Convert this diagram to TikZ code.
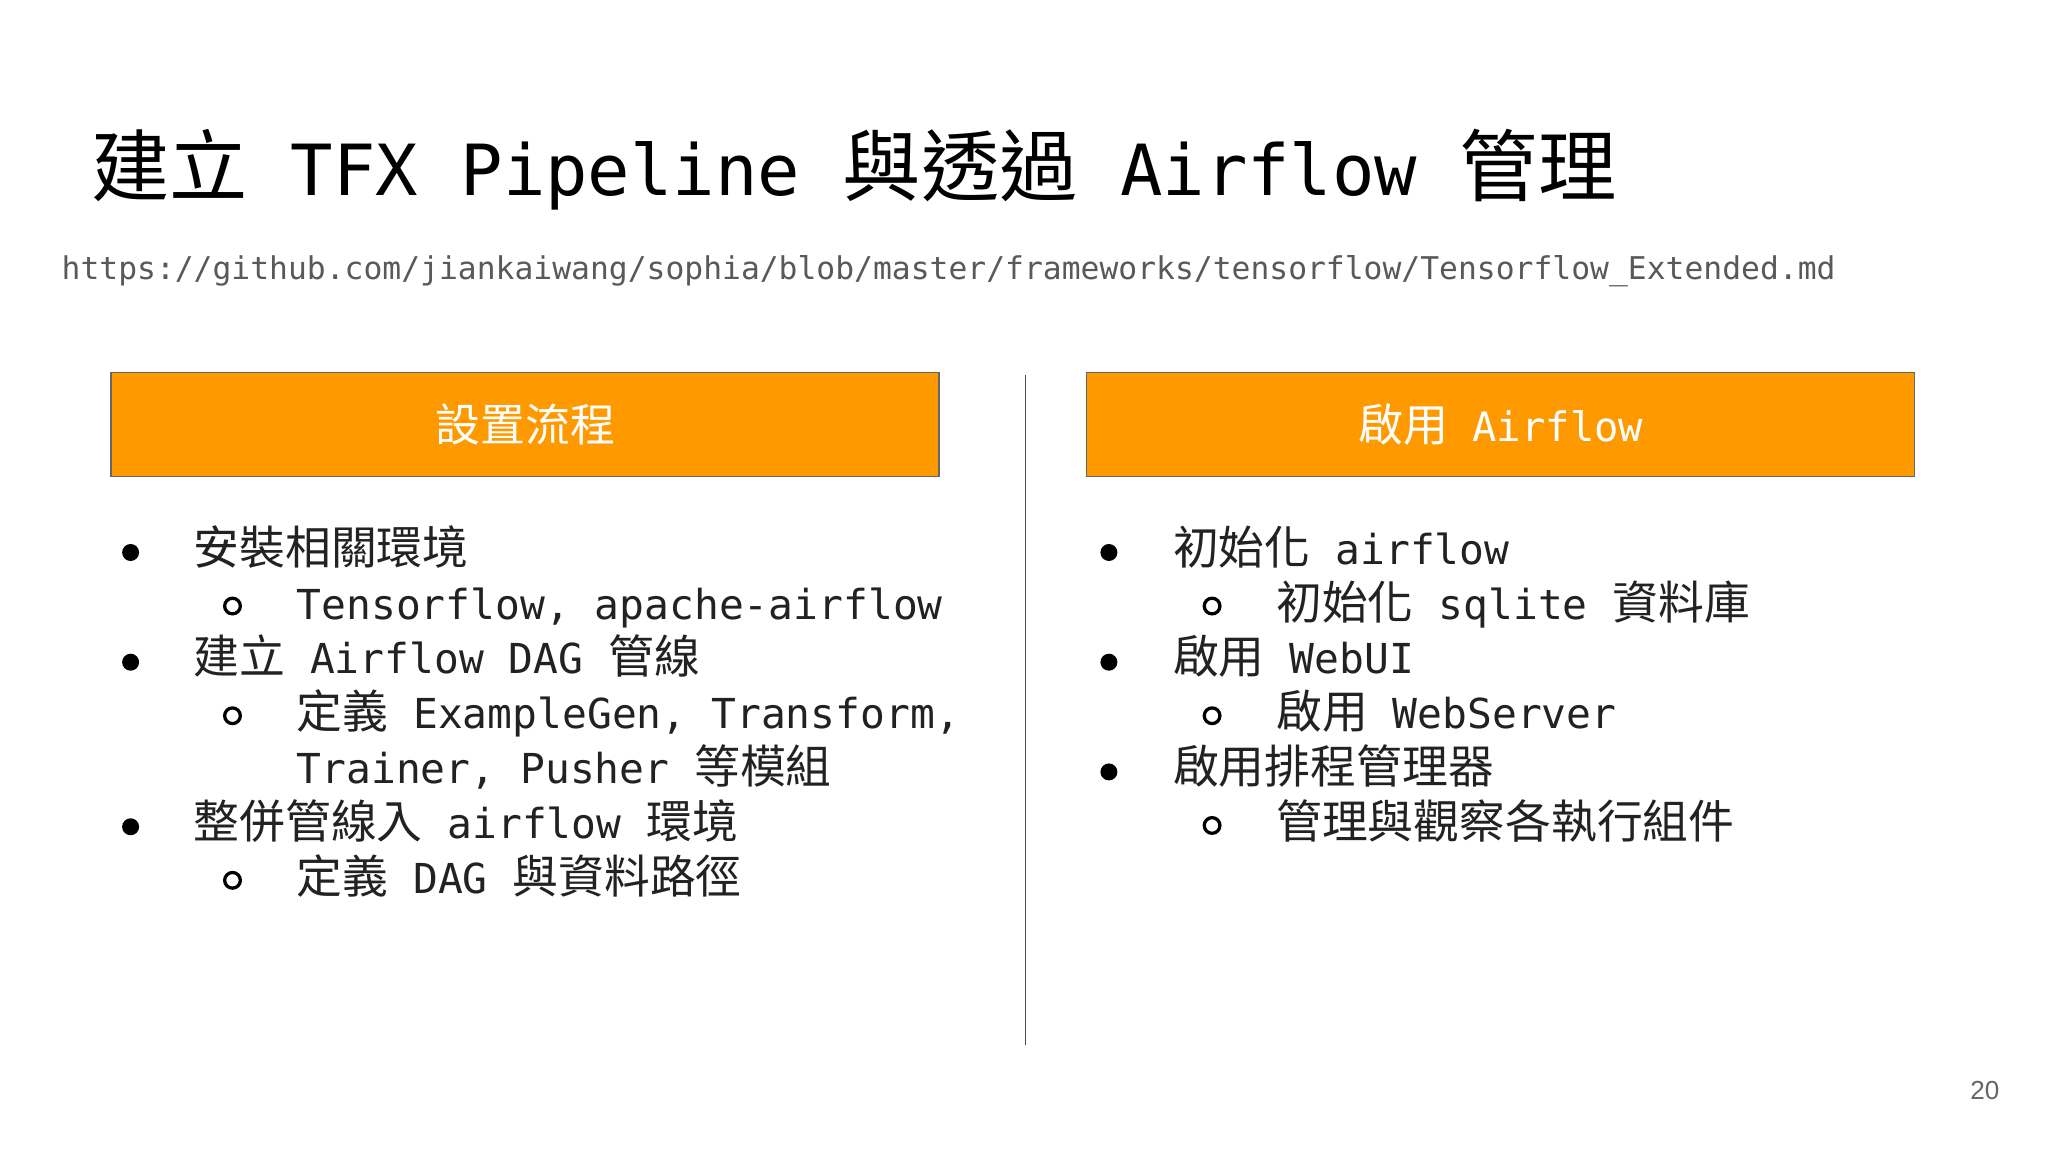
\documentclass[tikz,border=0pt]{standalone}
\usepackage{fontspec}
\setmainfont{DejaVu Sans Mono}
\newfontfamily\zhf[Scale=1.11]{Noto Sans CJK TC}
\newfontfamily\pgfont{Liberation Sans}
\newcommand{\zh}[1]{{\zhf #1}}
\definecolor{hdr}{HTML}{FF9900}
\definecolor{txt}{HTML}{222222}
\tikzset{
  line/.style={anchor=base west, inner sep=0pt, font=\fontsize{31.6}{31.6}\selectfont, text=txt},
  hbox/.style={draw=black!60, line width=1pt, fill=hdr, minimum width=634pt, minimum height=80pt, text=white, font=\fontsize{31}{31}\selectfont},
  bul/.style={fill=black, circle, inner sep=0pt, minimum size=13pt},
  sbul/.style={draw=black, line width=2.5pt, circle, inner sep=0pt, minimum size=12pt}
}
\begin{document}
\begin{tikzpicture}[x=1pt,y=-1pt]
\useasboundingbox[fill=white] (0,0) rectangle (1568,882);
\node[anchor=base west, inner sep=0pt, font=\fontsize{54}{54}\selectfont, text=black] (title) at (70,150) {\zh{建立} TFX Pipeline \zh{與透過} Airflow \zh{管理}};
\node[anchor=base west, inner sep=0pt, font=\fontsize{24}{24}\selectfont, text=black!65] (url) at (47,214) {https://github.com/jiankaiwang/sophia/blob/master/frameworks/tensorflow/Tensorflow\_Extended.md};
\node[hbox] (h1) at (402,325) {\zh{設置流程}};
\node[hbox] (h2) at (1149,325) {\zh{啟用} Airflow};
\coordinate (d1) at (785,287); \coordinate (d2) at (785,800);
\draw[black!70, line width=1.2pt] (d1) -- (d2);
% left
\node[bul] (lb1) at (100,423) {};
\node[line] (l1) at (148,432) {\zh{安裝相關環境}};
\node[sbul] (ls1) at (178,464) {};
\node[line] (l2) at (227,474) {Tensorflow, apache-airflow};
\node[bul] (lb2) at (100,507) {};
\node[line] (l3) at (148,516) {\zh{建立} Airflow DAG \zh{管線}};
\node[sbul] (ls2) at (178,548) {};
\node[line] (l4) at (227,558) {\zh{定義} ExampleGen, Transform,};
\node[line] (l5) at (227,600) {Trainer, Pusher \zh{等模組}};
\node[bul] (lb3) at (100,633) {};
\node[line] (l6) at (148,642) {\zh{整併管線入} airflow \zh{環境}};
\node[sbul] (ls3) at (178,674) {};
\node[line] (l7) at (227,684) {\zh{定義} DAG \zh{與資料路徑}};
% right
\node[bul] (rb1) at (849,423) {};
\node[line] (r1) at (898,432) {\zh{初始化} airflow};
\node[sbul] (rs1) at (928,464) {};
\node[line] (r2) at (977,474) {\zh{初始化} sqlite \zh{資料庫}};
\node[bul] (rb2) at (849,507) {};
\node[line] (r3) at (898,516) {\zh{啟用} WebUI};
\node[sbul] (rs2) at (928,548) {};
\node[line] (r4) at (977,558) {\zh{啟用} WebServer};
\node[bul] (rb3) at (849,591) {};
\node[line] (r5) at (898,600) {\zh{啟用排程管理器}};
\node[sbul] (rs3) at (928,632) {};
\node[line] (r6) at (977,642) {\zh{管理與觀察各執行組件}};
\node[anchor=base east, inner sep=0pt, font=\pgfont\fontsize{20}{20}\selectfont, text=black!60] (pg) at (1531,842) {20};
\end{tikzpicture}
\end{document}
